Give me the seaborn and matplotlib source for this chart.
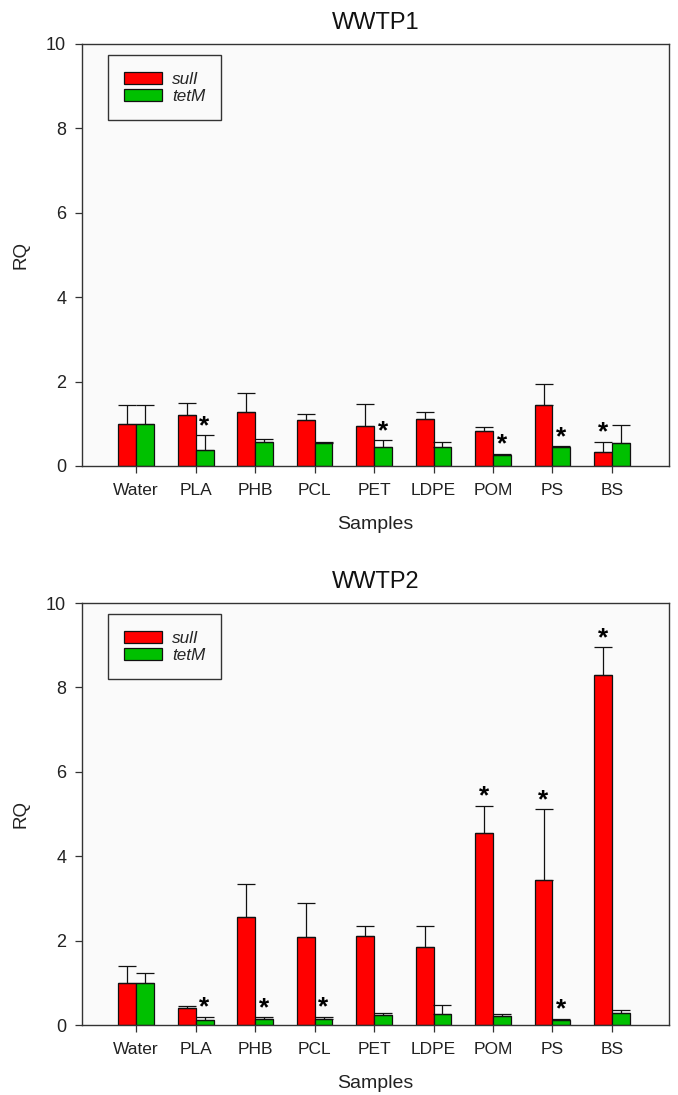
import numpy as np
import pandas as pd
import matplotlib
matplotlib.use("Agg")
import matplotlib.pyplot as plt
from matplotlib.container import BarContainer
import seaborn as sns

samples = ["Water", "PLA", "PHB", "PCL", "PET", "LDPE", "POM", "PS", "BS"]
genes = ["sulI", "tetM"]

# WWTP1
w1_sul = [1.00, 1.21, 1.28, 1.08, 0.95, 1.11, 0.84, 1.44, 0.34]
w1_sul_err = [0.44, 0.29, 0.46, 0.15, 0.52, 0.16, 0.08, 0.51, 0.23]
w1_tet = [1.00, 0.39, 0.58, 0.54, 0.45, 0.45, 0.27, 0.44, 0.55]
w1_tet_err = [0.44, 0.34, 0.07, 0.04, 0.16, 0.11, 0.02, 0.03, 0.42]
w1_sul_sig = [0, 0, 0, 0, 0, 0, 0, 0, 1]
w1_tet_sig = [0, 1, 0, 0, 1, 0, 1, 1, 0]

# WWTP2
w2_sul = [1.00, 0.41, 2.56, 2.08, 2.10, 1.85, 4.54, 3.44, 8.30]
w2_sul_err = [0.39, 0.05, 0.78, 0.80, 0.24, 0.50, 0.65, 1.67, 0.65]
w2_tet = [1.00, 0.12, 0.14, 0.15, 0.24, 0.27, 0.21, 0.12, 0.28]
w2_tet_err = [0.24, 0.07, 0.04, 0.04, 0.05, 0.20, 0.05, 0.02, 0.07]
w2_sul_sig = [0, 0, 0, 0, 0, 0, 1, 1, 1]
w2_tet_sig = [0, 1, 1, 1, 0, 0, 0, 1, 0]

yticks = [0, 2, 4, 6, 8, 10]
colors = {"sulI": "#ff0000", "tetM": "#00c000"}

sns.set_style("ticks")
plt.rcParams["font.family"] = ["Liberation Sans", "DejaVu Sans"]

W, H = 678, 1095
fig = plt.figure(figsize=(W / 100, H / 100), dpi=100)

panels = [
    ("WWTP1", w1_sul, w1_sul_err, w1_tet, w1_tet_err, w1_sul_sig, w1_tet_sig, 44, 466),
    ("WWTP2", w2_sul, w2_sul_err, w2_tet, w2_tet_err, w2_sul_sig, w2_tet_sig, 603, 1025),
]

bg = "#fafafa"
L, R = 81.5, 669
for title, sv, se, tv, te, ss, ts, top, bot in panels:
    ax = fig.add_axes([L / W, (H - bot) / H, (R - L) / W, (bot - top) / H])
    ax.set_facecolor(bg)
    df = pd.DataFrame({
        "Samples": samples * 2,
        "RQ": sv + tv,
        "gene": ["sulI"] * len(samples) + ["tetM"] * len(samples),
    })
    sns.barplot(data=df, x="Samples", y="RQ", hue="gene", order=samples,
                hue_order=genes, palette=colors, width=0.6, errorbar=None,
                edgecolor="#111111", linewidth=0.9, saturation=1, ax=ax)
    errs = [se, te]
    sigs = [ss, ts]
    bar_conts = [c for c in ax.containers if isinstance(c, BarContainer)]
    for ci, cont in enumerate(bar_conts):
        xs = [b.get_x() + b.get_width() / 2 for b in cont]
        hs = [b.get_height() for b in cont]
        e = errs[ci]
        ax.errorbar(xs, hs, yerr=[np.zeros(len(e)), e], fmt="none",
                    ecolor="#111111", elinewidth=0.9, capsize=6.5, capthick=0.9)
        for x, h, err, s in zip(xs, hs, e, sigs[ci]):
            if s:
                ax.text(x, h + err + 0.22, "*", ha="center", va="center",
                        fontsize=19, fontweight="bold", color="black")
    ax.set_xlim(-0.92, 8.96)
    ax.set_ylim(0, 10)
    ax.set_yticks(yticks)
    ax.set_yticklabels([str(t) for t in yticks])
    ax.tick_params(axis="both", length=5, width=0.9,
                   color="#333333", labelcolor="#222222")
    ax.tick_params(axis="y", labelsize=13, pad=6)
    ax.tick_params(axis="x", labelsize=12.5, pad=7)
    for sp in ax.spines.values():
        sp.set_visible(True)
        sp.set_color("#333333")
        sp.set_linewidth(1.0)
    ax.set_xlabel("Samples", fontsize=14, labelpad=13, color="#222222")
    ax.set_ylabel("RQ", fontsize=13.5, labelpad=12, color="#222222")
    ax.set_title(title, fontsize=17, pad=11, color="#111111")
    leg = ax.legend(loc="upper left", bbox_to_anchor=(0.045, 0.973),
                    borderaxespad=0, frameon=True, fancybox=False,
                    edgecolor="#333333", facecolor=bg, framealpha=1,
                    prop={"style": "italic", "size": 12.3},
                    handlelength=2.2, handleheight=0.7, borderpad=0.95,
                    labelspacing=0.15, handletextpad=0.6, title=None)
    leg.get_frame().set_linewidth(1.0)

fig.savefig("out.png", dpi=100, facecolor="white")
